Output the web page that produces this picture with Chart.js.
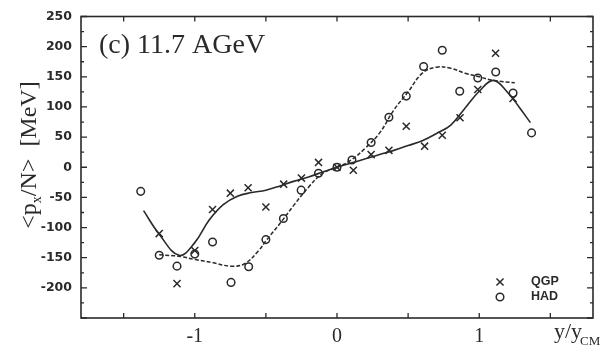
<!DOCTYPE html>
<html><head><meta charset="utf-8">
<script src="https://cdn.jsdelivr.net/npm/chart.js@4/dist/chart.umd.min.js"></script>
<style>html,body{margin:0;padding:0;background:#fff}canvas{display:block}</style>
</head><body>
<canvas id="c" width="605" height="352"></canvas>
<script>
// ---- data ----
const qgpX = [-1.25,-1.125,-1.0,-0.875,-0.75,-0.625,-0.5,-0.375,-0.25,-0.13,0,0.115,0.24,0.365,0.487,0.616,0.74,0.865,0.99,1.115,1.238];
const qgpY = [-110,-193,-138,-70,-43,-34,-66,-28,-18,8,0,-5,21,28,68,35,53,82,129,189,114];
const hadX = [-1.38,-1.25,-1.125,-1.0,-0.875,-0.745,-0.621,-0.5,-0.377,-0.252,-0.13,0,0.105,0.24,0.365,0.487,0.609,0.74,0.863,0.99,1.116,1.238,1.368];
const hadY = [-40,-146,-164,-144,-124,-191,-165,-120,-85,-38,-10,0,12,41,83,118,167,194,126,148,158,123,57];
const qgpFitX = [-1.36,-1.25,-1.11,-1.0,-0.9,-0.8,-0.7,-0.6,-0.5,-0.4,-0.3,-0.2,-0.1,0,0.1,0.2,0.3,0.4,0.5,0.6,0.7,0.8,0.9,1.0,1.1,1.2,1.28,1.36];
const qgpFitY = [-72,-111,-146,-125,-88,-62,-48,-42,-38,-31,-23,-16,-8,0,7,14,21,28,36,44,56,70,98,126,144,124,100,74];
const hadFitX = [-1.25,-1.1,-1.0,-0.875,-0.75,-0.65,-0.55,-0.5,-0.4,-0.3,-0.2,-0.1,0,0.1,0.2,0.3,0.4,0.5,0.6,0.7,0.8,0.9,1.0,1.1,1.25];
const hadFitY = [-145,-148,-153,-158,-164,-160,-138,-122,-93,-62,-33,-10,0,12,32,57,95,125,156,166,164,156,150,144,140];
const xTickLabels = [-1, 0, 1];
const xMajorTicks = [-1.5,-1,-0.5,0,0.5,1,1.5];
const yTickLabels = [250,200,150,100,50,0,-50,-100,-150,-200];
const yMajorTicks = [-250,-200,-150,-100,-50,0,50,100,150,200,250];
const yMinorTicks = [-225,-175,-125,-75,-25,25,75,125,175,225];
const seriesNames = ['QGP','HAD'];
const panelLabel = '(c) 11.7 AGeV';

const INK = '#2a2a2a';
function pts(xs, ys){ return xs.map((x,i)=>({x:x, y:ys[i]})); }

const decor = {
  id:'decor',
  afterDatasetsDraw(chart){
    const ctx = chart.ctx, a = chart.chartArea;
    const xs = chart.scales.x, ys = chart.scales.y;
    ctx.save();
    ctx.strokeStyle = INK; ctx.lineWidth = 1.6;
    ctx.strokeRect(a.left, a.top, a.right-a.left, a.bottom-a.top);
    ctx.lineWidth = 1.3;
    ctx.beginPath();
    xMajorTicks.forEach(v=>{
      const p = xs.getPixelForValue(v);
      ctx.moveTo(p, a.bottom); ctx.lineTo(p, a.bottom-5);
      ctx.moveTo(p, a.top); ctx.lineTo(p, a.top+5);
    });
    yMajorTicks.forEach(v=>{
      const p = ys.getPixelForValue(v);
      ctx.moveTo(a.left, p); ctx.lineTo(a.left+6, p);
      ctx.moveTo(a.right, p); ctx.lineTo(a.right-6, p);
    });
    yMinorTicks.forEach(v=>{
      const p = ys.getPixelForValue(v);
      ctx.moveTo(a.left, p); ctx.lineTo(a.left+3, p);
      ctx.moveTo(a.right, p); ctx.lineTo(a.right-3, p);
    });
    ctx.stroke();

    ctx.fillStyle = INK;
    // panel label
    ctx.font = '28px "Liberation Serif"';
    ctx.textBaseline = 'alphabetic'; ctx.textAlign = 'left';
    ctx.fillText(panelLabel, 99, 53);

    // x title  y/y_CM
    ctx.font = '22px "Liberation Serif"';
    ctx.fillText('y/y', 554, 338);
    const w = ctx.measureText('y/y').width;
    ctx.font = '13px "Liberation Serif"';
    ctx.fillText('CM', 554 + w - 2, 345);

    // y title  <p_x/N>  [MeV]
    ctx.save();
    ctx.translate(35.5, 155);
    ctx.rotate(-Math.PI/2);
    const big = '24px "Liberation Serif"', small = '14px "Liberation Serif"';
    ctx.font = big; const w1 = ctx.measureText('<p').width;
    ctx.font = small; const w2 = ctx.measureText('x').width;
    ctx.font = big; const w3 = ctx.measureText('/N>  [MeV]').width;
    const tot = w1 + w2 + w3;
    let cx = -tot/2;
    ctx.font = big; ctx.fillText('<p', cx, 0); cx += w1;
    ctx.font = small; ctx.fillText('x', cx, 5); cx += w2;
    ctx.font = big; ctx.fillText('/N>  [MeV]', cx, 0);
    ctx.restore();

    // legend
    const H = Chart.helpers;
    ctx.lineWidth = 1.5; ctx.strokeStyle = INK;
    H.drawPoint(ctx, {pointStyle:'crossRot', radius:5, borderWidth:1.5}, 500, 282);
    ctx.fillStyle = '#fff';
    H.drawPoint(ctx, {pointStyle:'circle', radius:3.8, borderWidth:1.5}, 500, 297);
    ctx.fillStyle = INK;
    ctx.font = 'bold 12.5px "Liberation Sans"';
    ctx.textBaseline = 'middle';
    ctx.fillText(seriesNames[0], 531, 282);
    ctx.fillText(seriesNames[1], 531, 297);
    ctx.restore();
  }
};

new Chart(document.getElementById('c'), {
  type: 'scatter',
  data: { datasets: [
    { label: seriesNames[0]+' fit', data: pts(qgpFitX, qgpFitY), showLine: true, pointRadius: 0,
      borderColor: INK, borderWidth: 1.6, tension: 0.4, fill: false },
    { label: seriesNames[1]+' fit', data: pts(hadFitX, hadFitY), showLine: true, pointRadius: 0,
      borderColor: INK, borderWidth: 1.5, borderDash: [4,2], tension: 0.4, fill: false },
    { label: seriesNames[0], data: pts(qgpX, qgpY), pointStyle: 'crossRot', pointRadius: 5,
      borderColor: INK, borderWidth: 1.5, backgroundColor: INK },
    { label: seriesNames[1], data: pts(hadX, hadY), pointStyle: 'circle', pointRadius: 3.8,
      borderColor: INK, borderWidth: 1.5, backgroundColor: 'rgba(255,255,255,0)' }
  ]},
  options: {
    responsive: false, animation: false, devicePixelRatio: 1,
    layout: { padding: { left: 0, right: 12, top: 15, bottom: 0 } },
    plugins: { legend: { display: false }, tooltip: { enabled: false } },
    scales: {
      x: { type: 'linear', min: -1.8, max: 1.8,
        grid: { display: false, drawTicks: false }, border: { display: false },
        afterBuildTicks: s => { s.ticks = xTickLabels.map(v => ({ value: v })); },
        afterFit: s => { s.height = 34; },
        ticks: { autoSkip: false, padding: 7, color: INK,
          font: { family: 'Liberation Serif', size: 20 },
          callback: v => String(v) } },
      y: { type: 'linear', min: -250, max: 250,
        grid: { display: false, drawTicks: false }, border: { display: false },
        afterBuildTicks: s => { s.ticks = yTickLabels.map(v => ({ value: v })); },
        afterFit: s => { s.width = 81; },
        ticks: { autoSkip: false, padding: 9, color: INK,
          font: { family: 'DejaVu Sans', size: 12.5, weight: 'bold' },
          callback: v => String(v) } }
    }
  },
  plugins: [decor]
});
</script>
</body></html>
